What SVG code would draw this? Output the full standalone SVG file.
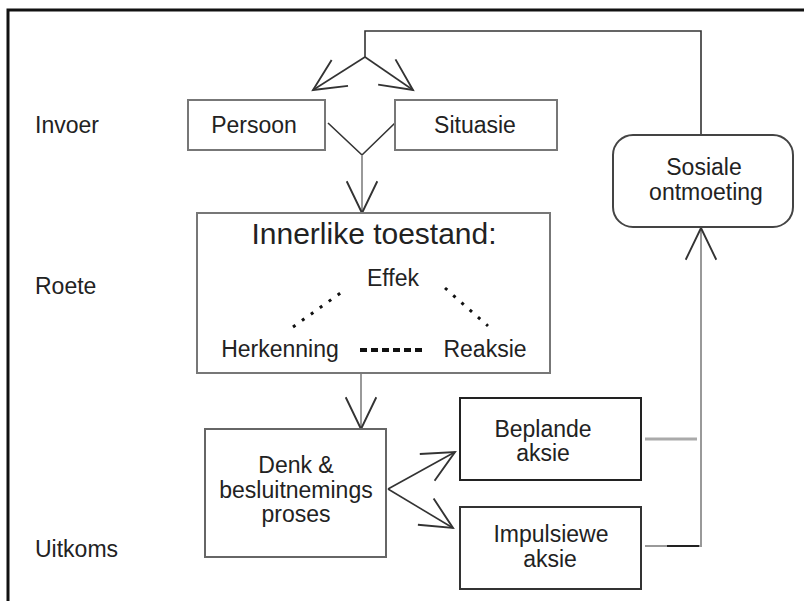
<svg xmlns="http://www.w3.org/2000/svg" width="804" height="601" viewBox="0 0 804 601">
<defs>
<marker id="ah" markerUnits="userSpaceOnUse" markerWidth="40" markerHeight="40" viewBox="-30 -16 34 32" refX="0" refY="0" orient="auto" overflow="visible">
<path d="M-27,-13 L0,0 L-27,13" fill="none" stroke="#333" stroke-width="1.6"/>
</marker>
</defs>
<style>
.box{fill:#fff;stroke:#777;stroke-width:2}
.dark{stroke:#222}
.t{font-family:"Liberation Sans",Arial,sans-serif;font-size:23px;fill:#222;text-anchor:middle}
.title{font-size:30px}
.lab{font-family:"Liberation Sans",Arial,sans-serif;font-size:23px;fill:#222}
.ln{fill:none;stroke:#333;stroke-width:1.6}
.gl{fill:none;stroke:#999;stroke-width:2}
.dot{fill:none;stroke:#111;stroke-width:3;stroke-dasharray:3 8}
</style>
<rect width="804" height="601" fill="#fff"/>
<path d="M8,601 V10 H804" fill="none" stroke="#111" stroke-width="3"/>
<g id="labels">
<text class="lab" x="35" y="133">Invoer</text>
<text class="lab" x="35" y="294">Roete</text>
<text class="lab" x="35" y="557">Uitkoms</text>
</g>
<g id="connectors">
<path class="ln" d="M701,135 V31 H365 V57" stroke-width="2"/>
<path class="ln" d="M365,57 L313,90" marker-end="url(#ah)"/>
<path class="ln" d="M365,57 L413,90" marker-end="url(#ah)"/>
<path class="ln" d="M328,123 L362,155 L395,123"/>
<path class="gl" d="M362,155 V213" marker-end="url(#ah)"/>
<path class="gl" d="M361,374 V429" marker-end="url(#ah)"/>
<path class="ln" d="M388,489 L455,452" marker-end="url(#ah)"/>
<path class="ln" d="M388,489 L453,528" marker-end="url(#ah)"/>
<path d="M645,439 H697" fill="none" stroke="#aaa" stroke-width="3"/>
<path class="gl" d="M645,546 H701 V228" marker-end="url(#ah)"/>
<path d="M667,546 H699" fill="none" stroke="#222" stroke-width="2"/>
</g>
<g id="persoon">
<rect class="box" x="188" y="100" width="137" height="50"/>
<text class="t" x="254" y="133">Persoon</text>
</g>
<g id="situasie">
<rect class="box" x="395" y="100" width="162" height="50"/>
<text class="t" x="475" y="133">Situasie</text>
</g>
<g id="innerlike">
<rect class="box" x="197" y="213" width="353" height="160"/>
<text class="t title" x="374" y="244">Innerlike toestand:</text>
<text class="t" x="393" y="286">Effek</text>
<text class="t" x="280" y="357">Herkenning</text>
<text class="t" x="485" y="357">Reaksie</text>
<path class="dot" d="M293,327 L346,289"/>
<path class="dot" d="M445,288 L488,326"/>
<path d="M360,350 H425" fill="none" stroke="#111" stroke-width="4" stroke-dasharray="7 4"/>
</g>
<g id="denk">
<rect class="box" x="205" y="429" width="181" height="128" style="stroke:#666"/>
<text class="t" x="296" y="473">Denk &amp;</text>
<text class="t" x="296" y="498">besluitnemings</text>
<text class="t" x="296" y="522">proses</text>
</g>
<g id="beplande">
<rect class="box dark" x="460" y="398" width="181" height="82"/>
<text class="t" x="543" y="437">Beplande</text>
<text class="t" x="543" y="461">aksie</text>
</g>
<g id="impulsiewe">
<rect class="box" x="460" y="507" width="181" height="82" style="stroke:#333"/>
<text class="t" x="551" y="542">Impulsiewe</text>
<text class="t" x="550" y="567">aksie</text>
</g>
<g id="sosiale">
<rect class="box" x="613" y="135" width="180" height="92" rx="20" style="stroke:#444"/>
<text class="t" x="704" y="175">Sosiale</text>
<text class="t" x="706" y="200">ontmoeting</text>
</g>
</svg>
